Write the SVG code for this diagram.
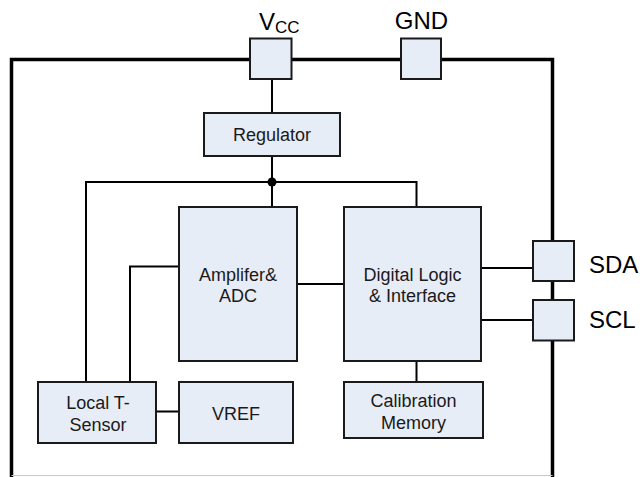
<svg xmlns="http://www.w3.org/2000/svg" width="642" height="477" viewBox="0 0 642 477">
<style>
.box{fill:#E7EDF7;stroke:#1a1a1a;stroke-width:2}
.w{fill:none;stroke:#000;stroke-width:2}
.t{font-family:"Liberation Sans",Arial,sans-serif;font-size:18px;fill:#1a1a1a;text-anchor:middle}
.p{font-family:"Liberation Sans",Arial,sans-serif;font-size:24px;fill:#000}
</style>
<rect width="642" height="477" fill="#fff"/>
<g id="package">
<polyline points="11.5,477 11.5,59.5 552.5,59.5 552.5,477" fill="none" stroke="#000" stroke-width="3.5"/>
<line x1="11.5" y1="475.5" x2="552.5" y2="475.5" stroke="#c8c8c8" stroke-width="1"/>
</g>
<g id="connectors">
<line class="w" x1="272" y1="79" x2="272" y2="113"/>
<line class="w" x1="272" y1="156" x2="272" y2="207"/>
<polyline class="w" points="86,382 86,182 416.5,182 416.5,207"/>
<polyline class="w" points="179,266.5 130,266.5 130,382"/>
<line class="w" x1="297" y1="284" x2="344" y2="284"/>
<line class="w" x1="156" y1="411.5" x2="179" y2="411.5"/>
<line class="w" x1="416.5" y1="361" x2="416.5" y2="382"/>
<line class="w" x1="481" y1="268" x2="533" y2="268"/>
<line class="w" x1="481" y1="320" x2="533" y2="320"/>
<circle cx="272" cy="182" r="4.5" fill="#000"/>
</g>
<g id="vcc-pin">
<rect class="box" x="250" y="38.5" width="41.5" height="40.5"/>
<text class="p" x="259" y="30">V<tspan font-size="17" dy="3">CC</tspan></text>
</g>
<g id="gnd-pin">
<rect class="box" x="401" y="38.5" width="40" height="40.5"/>
<text class="p" x="421.5" y="29" text-anchor="middle">GND</text>
</g>
<g id="sda-pin">
<rect class="box" x="533" y="241" width="41" height="40"/>
<text class="p" x="589" y="273">SDA</text>
</g>
<g id="scl-pin">
<rect class="box" x="533" y="300" width="41" height="40.5"/>
<text class="p" x="589" y="327.5">SCL</text>
</g>
<g id="regulator">
<rect class="box" x="204" y="113" width="136" height="43"/>
<text class="t" x="272" y="141">Regulator</text>
</g>
<g id="amplifier-adc">
<rect class="box" x="179" y="207" width="118" height="154"/>
<text class="t" x="238" y="281">Amplifer&amp;</text>
<text class="t" x="238" y="302">ADC</text>
</g>
<g id="digital-logic">
<rect class="box" x="344" y="207" width="137" height="154"/>
<text class="t" x="412.5" y="280.5">Digital Logic</text>
<text class="t" x="412.5" y="302">&amp; Interface</text>
</g>
<g id="local-t-sensor">
<rect class="box" x="38" y="382" width="118" height="61"/>
<text class="t" x="98" y="409">Local T-</text>
<text class="t" x="98" y="431">Sensor</text>
</g>
<g id="vref">
<rect class="box" x="179" y="382" width="114" height="61"/>
<text class="t" x="236" y="420">VREF</text>
</g>
<g id="calibration-memory">
<rect class="box" x="344" y="382" width="139" height="56"/>
<text class="t" x="413.5" y="407">Calibration</text>
<text class="t" x="413.5" y="429">Memory</text>
</g>
</svg>
